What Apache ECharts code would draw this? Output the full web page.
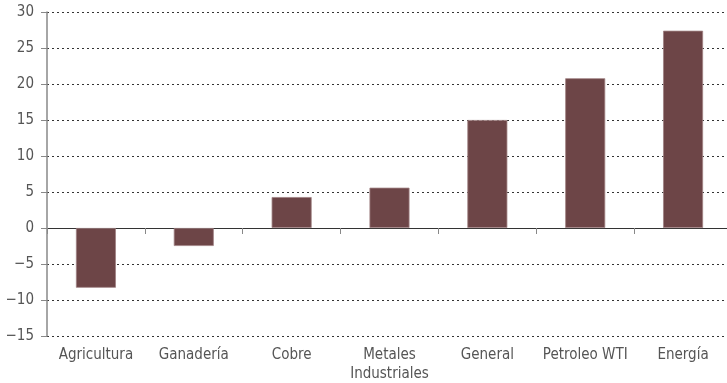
<!DOCTYPE html>
<html>
<head>
<meta charset="utf-8">
<script src="https://cdn.jsdelivr.net/npm/echarts@6/dist/echarts.min.js"></script>
<style>html,body{margin:0;padding:0;background:#fff;}#c{width:727px;height:383px;}</style>
</head>
<body>
<div id="c"></div>
<script>
var categories = ['Agricultura', 'Ganadería', 'Cobre', 'Metales\nIndustriales', 'General', 'Petroleo WTI', 'Energía'];
var values = [-8.3, -2.5, 4.3, 5.6, 15.0, 20.8, 27.4];
var yMin = -15, yMax = 30, yStep = 5;

var FONT = '"DejaVu Sans Condensed", "Liberation Sans Narrow", "Noto Sans", sans-serif';
var chart = echarts.init(document.getElementById('c'), null, {renderer: 'canvas'});
chart.setOption({
  animation: false,
  backgroundColor: '#ffffff',
  grid: {left: 47, width: 685, top: 12, height: 324, containLabel: false, outerBoundsMode: 'none'},
  xAxis: [
    {
      type: 'category', data: categories, position: 'bottom',
      axisLine: {show: false, onZero: false},
      axisTick: {show: false},
      axisLabel: {color: '#555', fontFamily: FONT, fontSize: 15, margin: 10, lineHeight: 19, interval: 0}
    },
    {
      type: 'category', data: categories, position: 'bottom',
      axisLine: {show: true, onZero: true, lineStyle: {color: '#333', width: 1}},
      axisTick: {show: true, length: 6, lineStyle: {color: '#888'}},
      axisLabel: {show: false}
    }
  ],
  yAxis: {
    type: 'value', min: yMin, max: yMax, interval: yStep,
    axisLine: {show: true, lineStyle: {color: '#888', width: 1.5}},
    axisTick: {show: true, length: 6, lineStyle: {color: '#888'}},
    axisLabel: {color: '#555', fontFamily: FONT, fontSize: 15, margin: 13,
      formatter: function (v) { return String(v).replace('-', '\u2212'); }},
    splitLine: {show: true, lineStyle: {color: '#333', type: [2, 3], width: 1}}
  },
  series: [{
    type: 'bar', xAxisIndex: 0, data: values, barWidth: 40,
    itemStyle: {color: '#6d4547', borderColor: '#a08183', borderWidth: 0.8}
  }]
});
</script>
</body>
</html>
